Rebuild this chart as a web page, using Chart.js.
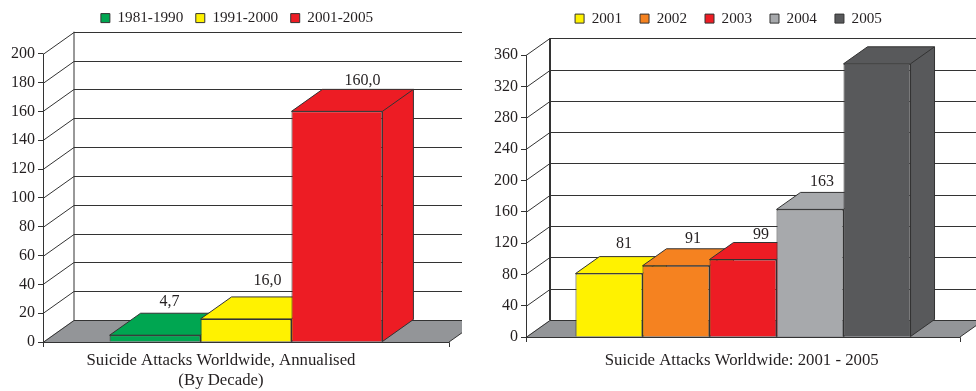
<!DOCTYPE html>
<html>
<head>
<meta charset="utf-8">
<title>Suicide Attacks Worldwide</title>
<script src="https://cdn.jsdelivr.net/npm/chart.js@4/dist/chart.umd.min.js"></script>
<style>
    html, body { margin: 0; padding: 0; background: #fff; overflow: hidden; }
    body { position: relative; width: 976px; height: 391px; }
    canvas { position: absolute; top: 0; }
    #decadeChart { left: 0; }
    #yearChart { left: 481px; }
</style>
</head>
<body>
<canvas id="decadeChart" width="474" height="391"></canvas>
<canvas id="yearChart" width="495" height="391"></canvas>

<script>
// Left chart: by decade
const decadeLabels = ['1981-1990', '1991-2000', '2001-2005'];
const decadeValues = [4.7, 16, 160];
const decadeValueLabels = ['4,7', '16,0', '160,0'];
const decadeColors = ['#00a651', '#fff200', '#ed1c24'];
const decadeCaption = ['Suicide Attacks Worldwide, Annualised', '(By Decade)'];

// Right chart: by year (2005 carries no value label)
const yearLabels = ['2001', '2002', '2003', '2004', '2005'];
const yearValues = [81, 91, 99, 163, 349];
const yearValueLabels = ['81', '91', '99', '163', ''];
const yearColors = ['#fff200', '#f58220', '#ed1c24', '#a7a9ac', '#58595b'];
const yearCaption = ['Suicide Attacks Worldwide: 2001 - 2005'];

const FONT_FAMILY = '"Liberation Serif", serif';
const INK = '#231f20';
const LINE = '#333333';
const FLOOR = '#939598';

// Walls, floor, bar sides and labels that Chart.js has no built in support for
const box3d = {
    id: 'box3d',

    beforeDatasetsDraw(chart, args, opts) {
        const ctx = chart.ctx;
        const { left, right, top, bottom } = chart.chartArea;
        const y = chart.scales.y;
        const { dx, dy, clipRight, wallWidth } = opts;

        ctx.save();
        ctx.beginPath();
        ctx.rect(0, 0, clipRight, chart.height);
        ctx.clip();

        // Floor
        ctx.fillStyle = FLOOR;
        ctx.beginPath();
        ctx.moveTo(left, bottom);
        ctx.lineTo(right, bottom);
        ctx.lineTo(right + dx, bottom - dy);
        ctx.lineTo(left + dx, bottom - dy);
        ctx.closePath();
        ctx.fill();

        // Grid lines run up the side wall and along the back wall
        ctx.strokeStyle = LINE;
        ctx.lineWidth = 1;
        y.ticks.forEach(tick => {
            const py = Math.round(y.getPixelForValue(tick.value)) + 0.5;
            ctx.beginPath();
            ctx.moveTo(left, py);
            ctx.lineTo(left + dx, py - dy);
            ctx.lineTo(clipRight, py - dy);
            ctx.stroke();
        });

        // Floor edges
        ctx.beginPath();
        ctx.moveTo(right, bottom);
        ctx.lineTo(right + dx, bottom - dy);
        ctx.stroke();

        // Back wall upright
        ctx.lineWidth = wallWidth;
        ctx.beginPath();
        ctx.moveTo(left + dx, top - dy);
        ctx.lineTo(left + dx, bottom - dy);
        ctx.stroke();

        // Axis corners with their small ticks under the floor
        ctx.lineWidth = 1;
        ctx.beginPath();
        ctx.moveTo(left + 0.5, top);
        ctx.lineTo(left + 0.5, bottom + 5);
        ctx.moveTo(left, bottom + 0.5);
        ctx.lineTo(right + 0.5, bottom + 0.5);
        ctx.lineTo(right + 0.5, bottom + 5);
        ctx.stroke();
        ctx.restore();

        // Top and right faces, left to right so the next bar covers the last one
        chart.data.datasets.forEach((ds, i) => {
            const bar = chart.getDatasetMeta(i).data[0];
            const x0 = bar.x - bar.width / 2;
            const x1 = bar.x + bar.width / 2;
            ctx.save();
            ctx.fillStyle = ds.backgroundColor;
            ctx.strokeStyle = LINE;
            ctx.lineWidth = 1;
            ctx.beginPath();
            ctx.moveTo(x0, bar.y);
            ctx.lineTo(x0 + dx, bar.y - dy);
            ctx.lineTo(x1 + dx, bar.y - dy);
            ctx.lineTo(x1 + dx, bar.base - dy);
            ctx.lineTo(x1, bar.base);
            ctx.lineTo(x1, bar.y);
            ctx.closePath();
            ctx.fill();
            ctx.stroke();
            ctx.beginPath();
            ctx.moveTo(x1, bar.y);
            ctx.lineTo(x1 + dx, bar.y - dy);
            ctx.stroke();
            ctx.restore();
        });
    },

    afterDatasetsDraw(chart, args, opts) {
        const ctx = chart.ctx;
        ctx.save();
        ctx.fillStyle = INK;
        ctx.font = opts.font;
        ctx.textAlign = 'center';
        ctx.textBaseline = 'middle';

        opts.valueLabels.forEach((text, i) => {
            const bar = chart.getDatasetMeta(i).data[0];
            const nudge = opts.labelNudges[i];
            ctx.fillText(text, bar.x + opts.dx / 2 + nudge[0], bar.y - opts.dy + nudge[1]);
        });

        ctx.font = opts.captionFont;
        opts.caption.forEach((line, i) => {
            ctx.fillText(line, opts.captionX, opts.captionY + i * 20);
        });
        ctx.restore();
    }
};

// The legend sits closer to the top edge and off centre compared to the default layout
const legendOffset = {
    id: 'legendOffset',
    afterLayout(chart, args, opts) {
        const legend = chart.legend;
        legend.top = opts.top;
        legend.left += opts.shift;
        legend.right += opts.shift;
    }
};

function drawChart(id, labels, values, colors, settings) {
    return new Chart(document.getElementById(id), {
        type: 'bar',
        data: {
            labels: [''],
            datasets: labels.map((label, i) => ({
                label: label,
                data: [values[i]],
                backgroundColor: colors[i],
                borderColor: LINE,
                borderWidth: 1
            }))
        },
        plugins: [box3d, legendOffset],
        options: {
            responsive: false,
            animation: false,
            events: [],
            layout: {
                padding: { top: settings.paddingTop, right: settings.paddingRight, bottom: settings.paddingBottom, left: 0 }
            },
            datasets: {
                bar: { barPercentage: 1, categoryPercentage: settings.barShare }
            },
            scales: {
                x: {
                    grid: { display: false },
                    border: { display: false },
                    ticks: { display: false }
                },
                y: {
                    min: 0,
                    max: settings.yMax,
                    afterFit(scale) { scale.width = settings.axisWidth; },
                    grid: { drawOnChartArea: false, color: LINE, tickLength: 5 },
                    border: { display: false },
                    ticks: {
                        stepSize: settings.yStep,
                        color: INK,
                        padding: 3,
                        font: { family: FONT_FAMILY, size: 16 }
                    }
                }
            },
            plugins: {
                tooltip: { enabled: false },
                legend: {
                    position: 'top',
                    labels: {
                        boxWidth: 9,
                        boxHeight: 9,
                        padding: settings.legendGap,
                        color: INK,
                        font: { family: FONT_FAMILY, size: 15.2 }
                    }
                },
                legendOffset: { top: settings.legendTop, shift: settings.legendShift },
                box3d: {
                    dx: settings.dx,
                    dy: settings.dy,
                    clipRight: settings.clipRight,
                    wallWidth: settings.wallWidth,
                    font: '16px ' + FONT_FAMILY,
                    captionFont: '16.8px ' + FONT_FAMILY,
                    valueLabels: settings.valueLabels,
                    labelNudges: settings.labelNudges,
                    caption: settings.caption,
                    captionX: settings.captionX,
                    captionY: 361
                }
            }
        }
    });
}

drawChart('decadeChart', decadeLabels, decadeValues, decadeColors, {
    yMax: 200, yStep: 20, axisWidth: 43,
    paddingTop: 16, paddingRight: 25, paddingBottom: 41,
    barShare: 0.672, legendGap: 12.5, legendTop: -2, legendShift: 12.5,
    dx: 31, dy: 22, clipRight: 462, wallWidth: 1,
    valueLabels: decadeValueLabels,
    labelNudges: [[-1, -11], [6, -16], [10, -9]],
    caption: decadeCaption, captionX: 221
});

drawChart('yearChart', yearLabels, yearValues, yearColors, {
    yMax: 360, yStep: 40, axisWidth: 45,
    paddingTop: 12, paddingRight: 16, paddingBottom: 46,
    barShare: 0.772, legendGap: 18, legendTop: -7, legendShift: 8,
    dx: 24, dy: 17, clipRight: 495, wallWidth: 2,
    valueLabels: yearValueLabels,
    labelNudges: [[3, -13], [5, -10], [6, -8], [0, -11], [0, 0]],
    caption: yearCaption, captionX: 260.7
});
</script>
</body>
</html>
